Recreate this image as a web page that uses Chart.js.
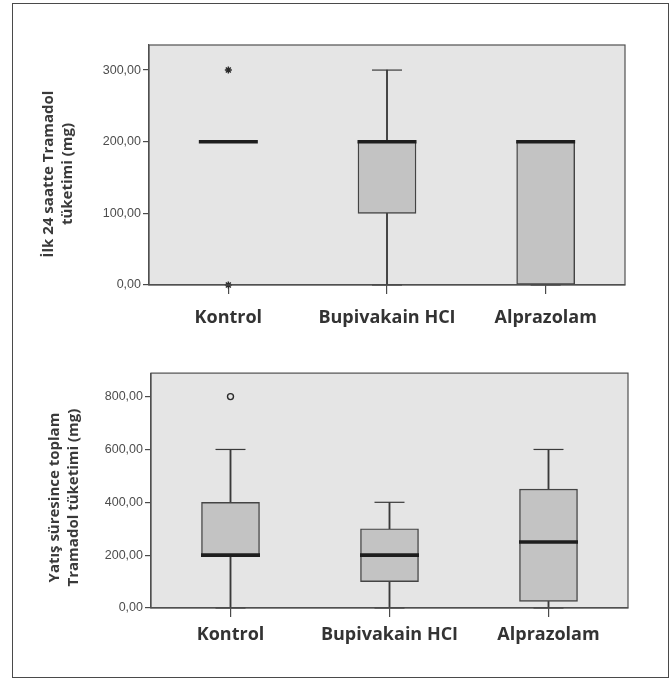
<!DOCTYPE html>
<html>
<head>
<meta charset="utf-8">
<script src="https://cdn.jsdelivr.net/npm/chart.js@4.4.0/dist/chart.umd.min.js"></script>
<style>
  html, body { margin: 0; padding: 0; background: #ffffff; }
  #wrap { position: relative; width: 672px; height: 680px; }
  #frame { position: absolute; left: 12px; top: 3px; width: 655px; height: 673px; border: 1.5px solid #4a4a4a; }
  .cv { position: absolute; left: 0; width: 672px; height: 340px; }
  #c1 { top: 0; }
  #c2 { top: 340px; }
</style>
</head>
<body>
<div id="wrap">
  <div id="frame"></div>
  <div class="cv" id="c1"><canvas id="chart1"></canvas></div>
  <div class="cv" id="c2"><canvas id="chart2"></canvas></div>
</div>
<script>
// ---------- DATA ----------
const categories = ['Kontrol', 'Bupivakain HCI', 'Alprazolam'];

// Chart 1: İlk 24 saatte Tramadol tüketimi (mg)
const top_q1      = [200, 100, 0];
const top_median  = [200, 200, 200];
const top_q3      = [200, 200, 200];
const top_whMin   = [200, 0, 0];
const top_whMax   = [200, 300, 200];
const top_extreme1 = [300, null, null];  // stars
const top_extreme2 = [0, null, null];
const top_title   = ['İlk 24 saatte Tramadol', 'tüketimi (mg)'];
const top_ticks   = [0, 100, 200, 300];

// Chart 2: Yatış süresince toplam Tramadol tüketimi (mg)
const bot_q1      = [200, 100, 25];
const bot_median  = [200, 200, 250];
const bot_q3      = [400, 300, 450];
const bot_whMin   = [0, 0, 0];
const bot_whMax   = [600, 400, 600];
const bot_outlier = [800, null, null];   // circle
const bot_title   = ['Yatış süresince toplam', 'Tramadol tüketimi (mg)'];
const bot_ticks   = [0, 200, 400, 600, 800];

// ---------- HELPERS ----------
const fmt = v => Number(v).toFixed(2).replace('.', ',');

const areaPlugin = {
  id: 'areaPlugin',
  beforeDraw(chart) {
    const {ctx, chartArea: a} = chart;
    ctx.save();
    ctx.fillStyle = '#e5e5e5';
    ctx.fillRect(a.left, a.top, a.right - a.left, a.bottom - a.top);
    ctx.restore();
  },
  afterDatasetsDraw(chart) {
    const {ctx, chartArea: a} = chart;
    ctx.save();
    ctx.strokeStyle = '#505050';
    ctx.lineWidth = 1.2;
    ctx.strokeRect(a.left, a.top, a.right - a.left, a.bottom - a.top);
    ctx.restore();
  },
  afterDraw(chart) {
    const o = chart.options.plugins.areaPlugin;
    if (!o || !o.lines) return;
    const {ctx, chartArea: a} = chart;
    ctx.save();
    ctx.fillStyle = '#3a3a3a';
    ctx.font = 'bold 15px "Open Sans"';
    ctx.textAlign = 'center';
    ctx.textBaseline = 'middle';
    const cy = (a.top + a.bottom) / 2 + o.dy;
    o.lines.forEach((t, i) => {
      ctx.save();
      ctx.translate(o.xs[i], cy);
      ctx.rotate(-Math.PI / 2);
      ctx.fillText(t, 0, 0);
      ctx.restore();
    });
    ctx.restore();
  }
};

function makeChart(id, d) {
  const ctx = document.getElementById(id);
  const boxes = categories.map((c, i) => (d.q1[i] === d.q3[i] ? null : [d.q1[i], d.q3[i]]));
  const upper = categories.map((c, i) => (d.whMax[i] > d.q3[i] ? [d.q3[i], d.whMax[i]] : null));
  const lower = categories.map((c, i) => (d.whMin[i] < d.q1[i] ? [d.whMin[i], d.q1[i]] : null));
  const datasets = [
    { type: 'bar', label: 'upper', data: upper, grouped: false, barThickness: 1.2,
      backgroundColor: '#3a3a3a', borderWidth: 0, order: 4 },
    { type: 'bar', label: 'lower', data: lower, grouped: false, barThickness: 1.2,
      backgroundColor: '#3a3a3a', borderWidth: 0, order: 4 },
    { type: 'bar', label: 'box', data: boxes, grouped: false, barThickness: 58,
      backgroundColor: '#c3c3c3', borderColor: '#444444', borderWidth: 1.4, borderSkipped: false, order: 3 },
    { type: 'line', label: 'capMax', data: d.whMax, showLine: false, pointStyle: 'line',
      pointRadius: 15, borderColor: '#3a3a3a', borderWidth: 1.2, order: 2, clip: false },
    { type: 'line', label: 'capMin', data: d.whMin, showLine: false, pointStyle: 'line',
      pointRadius: 15, borderColor: '#3a3a3a', borderWidth: 1.2, order: 2, clip: false },
    { type: 'line', label: 'median', data: d.median, showLine: false, pointStyle: 'line',
      pointRadius: 29.5, borderColor: '#1e1e1e', borderWidth: 3.6, order: 1, clip: false }
  ];
  d.extras.forEach(e => datasets.push({
    type: 'line', label: 'out', data: e.data, showLine: false, pointStyle: e.style,
    pointRadius: e.r, borderColor: '#2a2a2a', backgroundColor: 'rgba(0,0,0,0)',
    borderWidth: e.bw, order: 0, clip: false
  }));

  return new Chart(ctx, {
    type: 'bar',
    data: { labels: categories, datasets },
    plugins: [areaPlugin],
    options: {
      responsive: true,
      maintainAspectRatio: false,
      animation: false,
      events: [],
      layout: { padding: { left: 0, right: d.padRight, top: d.padTop, bottom: 0 } },
      plugins: {
        legend: { display: false },
        tooltip: { enabled: false },
        areaPlugin: { lines: d.title, xs: d.titleXs, dy: d.titleDy }
      },
      scales: {
        x: {
          type: 'category',
          offset: true,
          grid: { display: true, offset: false, drawOnChartArea: false, drawTicks: true,
                  tickLength: 9, color: '#4a4a4a', lineWidth: 1.2 },
          border: { display: true, color: '#505050', width: 1.2 },
          ticks: { color: '#333333', padding: d.xPad,
                   font: { family: '"Open Sans"', weight: 'bold', size: 18 } },
          afterFit: s => { s.height = d.xHeight; }
        },
        y: {
          min: 0, max: d.max,
          afterBuildTicks: s => { s.ticks = d.ticks.map(v => ({ value: v })); },
          grid: { display: true, drawOnChartArea: false, drawTicks: true,
                  tickLength: 6, color: '#4a4a4a', lineWidth: 1.2 },
          border: { display: true, color: '#505050', width: 1.2 },
          ticks: { color: '#4d4d4d', padding: 2, callback: v => fmt(v),
                   font: { family: '"Liberation Sans", Arial, sans-serif', size: 12.5 } },
          afterFit: s => { s.width = d.yWidth; }
        }
      }
    }
  });
}

makeChart('chart1', {
  q1: top_q1, median: top_median, q3: top_q3, whMin: top_whMin, whMax: top_whMax,
  extras: [
    { data: top_extreme1, style: 'star', r: 3.5, bw: 1.4 },
    { data: top_extreme2, style: 'star', r: 3.5, bw: 1.4 }
  ],
  max: 335, ticks: top_ticks, title: top_title, titleXs: [49, 68], titleDy: 9,
  padTop: 45, padRight: 47, xHeight: 55, yWidth: 149, xPad: 13
});

makeChart('chart2', {
  q1: bot_q1, median: bot_median, q3: bot_q3, whMin: bot_whMin, whMax: bot_whMax,
  extras: [
    { data: bot_outlier, style: 'circle', r: 3, bw: 1.4 }
  ],
  max: 889, ticks: bot_ticks, title: bot_title, titleXs: [55, 74], titleDy: 7,
  padTop: 28, padRight: 44, xHeight: 72, yWidth: 151, xPad: 7
});
</script>
</body>
</html>
